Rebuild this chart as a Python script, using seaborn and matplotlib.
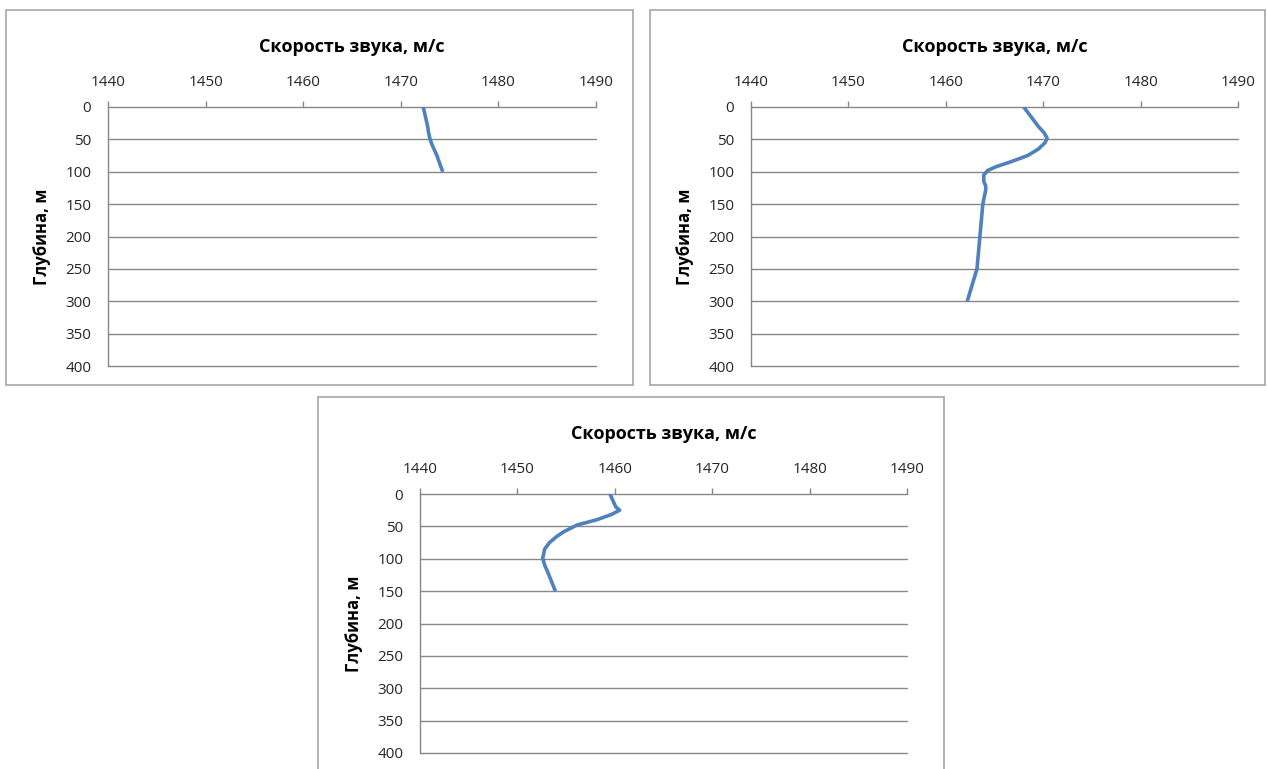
import matplotlib
matplotlib.use("Agg")
import matplotlib.pyplot as plt
from matplotlib.patches import Rectangle
import seaborn as sns
import pandas as pd

# Sound speed profiles (m/s) against depth (m) for three stations
depth_1 = [0, 10, 20, 30, 40, 50, 60, 75, 90, 100]
speed_1 = [1472.3, 1472.45, 1472.6, 1472.75, 1472.85, 1473.0, 1473.25, 1473.7, 1474.05, 1474.3]

depth_2 = [0, 10, 20, 30, 40, 48, 55, 65, 75, 85, 92, 98, 105, 115, 122, 128, 150, 200, 250, 275, 300]
speed_2 = [1468.0, 1468.5, 1469.0, 1469.5, 1470.1, 1470.4, 1470.2, 1469.5, 1468.4, 1466.6, 1465.2, 1464.3, 1463.9, 1463.9, 1464.1, 1464.1, 1463.8, 1463.5, 1463.2, 1462.7, 1462.2]

depth_3 = [0, 10, 20, 25, 32, 40, 48, 58, 66, 75, 85, 99, 110, 120, 135, 150]
speed_3 = [1459.5, 1459.8, 1460.1, 1460.5, 1459.6, 1458.1, 1456.1, 1454.8, 1454.0, 1453.3, 1452.8, 1452.6, 1452.8, 1453.1, 1453.5, 1453.9]

speed_ticks = [1440, 1450, 1460, 1470, 1480, 1490]
depth_ticks = [0, 50, 100, 150, 200, 250, 300, 350, 400]

x_title = "Скорость звука, м/с"
y_title = "Глубина, м"

sns.set_theme(style="white")
plt.rcParams["font.family"] = ["Open Sans", "DejaVu Sans"]

W, H = 1267, 769
fig = plt.figure(figsize=(W / 100, H / 100), dpi=100)
fig.patch.set_facecolor("white")

LINE = "#4F81BD"
GRID = "#878787"
FRAME = "#A5A5A5"
TEXT = "#262626"


def px_axes(left, top, right, bottom):
    return fig.add_axes([left / W, 1 - bottom / H, (right - left) / W, (bottom - top) / H])


def frame(left, top, right, bottom):
    fig.patches.append(Rectangle((left / W, 1 - bottom / H), (right - left) / W, (bottom - top) / H,
                                 transform=fig.transFigure, fill=False, edgecolor=FRAME,
                                 linewidth=1.2, zorder=0))


def profile(ax, depth, speed):
    df = pd.DataFrame({"depth": depth, "speed": speed})
    sns.lineplot(data=df, x="speed", y="depth", sort=False, estimator=None, ax=ax,
                 color=LINE, linewidth=2.6, solid_capstyle="butt")
    ax.set_xlim(1440, 1490)
    ax.set_ylim(400, 0)
    ax.set_xticks(speed_ticks)
    ax.set_yticks(depth_ticks)
    ax.xaxis.tick_top()
    ax.xaxis.set_label_position("top")
    ax.set_xlabel(x_title, fontsize=13, fontweight="bold", color="black", labelpad=16)
    ax.set_ylabel(y_title, fontsize=12, fontweight="bold", color="black", labelpad=10)
    ax.tick_params(axis="both", direction="out", length=4, width=1, color=GRID,
                   labelsize=11, labelcolor=TEXT)
    ax.tick_params(axis="x", pad=8.5)
    ax.tick_params(axis="y", pad=8)
    ax.yaxis.grid(True, color=GRID, linewidth=1)
    ax.xaxis.grid(False)
    for gl in ax.yaxis.get_gridlines():
        gl.set_clip_on(False)
    for s in ("top", "right", "bottom"):
        ax.spines[s].set_visible(False)
    ax.spines["left"].set_color(GRID)
    ax.spines["left"].set_linewidth(1)
    ax.set_facecolor("white")


frame(6, 10, 633, 385)
frame(650, 10, 1265, 385)
frame(318, 397, 944, 800)

ax1 = px_axes(108, 107, 596, 366)
ax2 = px_axes(751, 107, 1238, 366)
ax3 = px_axes(420, 494, 907, 753)

profile(ax1, depth_1, speed_1)
profile(ax2, depth_2, speed_2)
profile(ax3, depth_3, speed_3)

fig.savefig("out.png", dpi=100, facecolor="white")
